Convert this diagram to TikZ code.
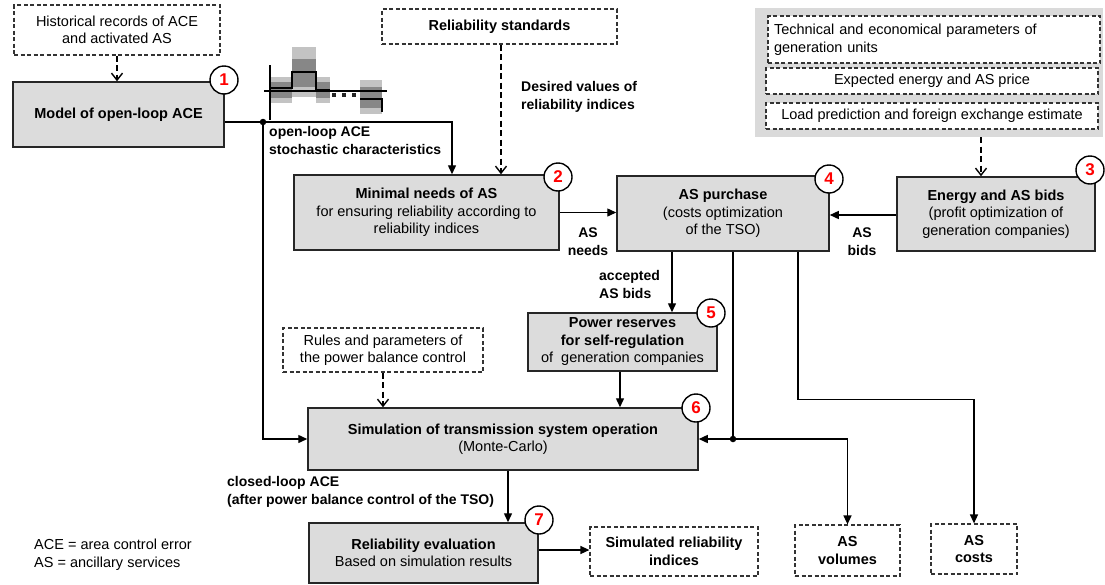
\documentclass[tikz,border=0pt]{standalone}
\usepackage{fontspec}
\setmainfont{Liberation Sans}
\usetikzlibrary{arrows.meta}
\definecolor{boxgray}{RGB}{220,220,220}
\definecolor{panelgray}{RGB}{218,218,218}
\definecolor{bandlight}{RGB}{195,195,195}
\definecolor{banddark}{RGB}{135,135,135}
\begin{document}
\begin{tikzpicture}[x=1pt,y=-1pt,
  every node/.style={font=\fontsize{14.5}{17.5}\selectfont, inner sep=0pt, align=center},
  procbox/.style={draw=black!85, line width=1.5pt, fill=boxgray},
  inbox/.style={draw=black!80, line width=1.2pt, dash pattern=on 4pt off 2.5pt, fill=white},
  numcirc/.style={circle, draw=black, line width=1.4pt, fill=white, minimum size=28pt,
    text=red, font=\fontsize{17}{17}\selectfont\bfseries},
  flow/.style={line width=1.4pt, -{Triangle[length=9pt,width=8pt]}},
  dflow/.style={line width=1.4pt, dash pattern=on 6pt off 3.5pt,
    -{Straight Barb[length=7pt,width=11pt,line width=1.4pt]}},
  lbl/.style={font=\fontsize{14}{18}\selectfont\bfseries},
  junction/.style={circle, fill=black, minimum size=6.5pt, inner sep=0pt}
]
\useasboundingbox (0,0) rectangle (1105,584);

% ---------- input data ----------
\node[inbox, minimum width=206pt, minimum height=50pt] (hist) at (117,30)
  {Historical records of ACE\\and activated AS};
\node[inbox, minimum width=235pt, minimum height=35pt] (relstd) at (499.5,26.5)
  {\bfseries Reliability standards};
\node[fill=panelgray, minimum width=348pt, minimum height=129pt] (panel) at (929,72.5) {};
\node[inbox, minimum width=332pt, minimum height=47pt, align=left, text width=320pt] (pA) at (934,39.5)
  {Technical and economical parameters of\\generation units};
\node[inbox, minimum width=332pt, minimum height=26pt] (pB) at (932,81)
  {Expected energy and AS price};
\node[inbox, minimum width=332pt, minimum height=26pt] (pC) at (932,116)
  {Load prediction and foreign exchange estimate};
\node[inbox, minimum width=200pt, minimum height=44pt] (rules) at (383,350)
  {Rules and parameters of\\the power balance control};

% ---------- processing blocks ----------
\node[procbox, minimum width=211pt, minimum height=65pt] (m1) at (118.5,114.5)
  {\bfseries Model of open-loop ACE};
\node[procbox, minimum width=265pt, minimum height=75pt] (m2) at (426.5,212.5)
  {\textbf{Minimal needs of AS}\\for ensuring reliability according to\\reliability indices};
\node[procbox, minimum width=212pt, minimum height=75pt] (m4) at (723,213.5)
  {\textbf{AS purchase}\\(costs optimization\\of the TSO)};
\node[procbox, minimum width=198pt, minimum height=74pt] (m3) at (996,214)
  {\textbf{Energy and AS bids}\\(profit optimization of\\generation companies)};
\node[procbox, minimum width=189pt, minimum height=58pt] (m5) at (622.5,342)
  {\textbf{Power reserves}\\\textbf{for self-regulation}\\of\ \ generation companies};
\node[procbox, minimum width=390pt, minimum height=62pt] (m6) at (503,439)
  {\textbf{Simulation of transmission system operation}\\(Monte-Carlo)};
\node[procbox, minimum width=229pt, minimum height=60pt] (m7) at (423.5,553)
  {\textbf{Reliability evaluation}\\Based on simulation results};

% ---------- outputs ----------
\node[inbox, minimum width=168pt, minimum height=49pt] (sim) at (674,551.5)
  {\bfseries Simulated reliability\\\bfseries indices};
\node[inbox, minimum width=105pt, minimum height=51pt] (vol) at (847.5,550.5)
  {\bfseries AS\\\bfseries volumes};
\node[inbox, minimum width=86pt, minimum height=50pt] (cost) at (974,549)
  {\bfseries AS\\\bfseries costs};

% ---------- block numbers ----------
\node[numcirc] (n1) at (224,80) {1};
\node[numcirc] (n2) at (558,177) {2};
\node[numcirc] (n3) at (1090,170) {3};
\node[numcirc] (n4) at (829,179) {4};
\node[numcirc] (n5) at (711,313) {5};
\node[numcirc] (n6) at (696,408) {6};
\node[numcirc] (n7) at (539,520) {7};

% ---------- open-loop ACE sketch ----------
\fill[bandlight] (270,77) rectangle (292,103);
\fill[banddark]  (270,82) rectangle (292,98);
\fill[bandlight] (292,47) rectangle (316,97);
\fill[banddark]  (292,59) rectangle (316,87);
\fill[bandlight] (316,77) rectangle (330,103);
\fill[banddark]  (316,82) rectangle (330,98);
\fill[bandlight] (360,80) rectangle (382,114);
\fill[banddark]  (360,87) rectangle (382,108);
\draw[line width=1.2pt] (270,65) -- (270,120);
\draw[line width=1.2pt] (264,91) -- (387,91);
\draw[line width=1.2pt] (270,88) -- (292,88) -- (292,72) -- (316,72) -- (316,90) -- (330,90);
\draw[line width=1.2pt] (360,99) -- (382,99) -- (382,112);
\foreach \px in {334,344,354} \fill[black!85] (\px-1.6,93.4) rectangle (\px+1.6,96.6);

% ---------- connectors ----------
\coordinate (split) at (263,122);
\draw[dflow] (hist.south) -- (hist.south |- m1.north);
\draw[flow] (m1.east |- split) -| ([xshift=25.5pt]m2.north);
\draw[flow] (split) |- (m6.west);
\node[junction] (d1) at (split) {};
\draw[dflow] ([xshift=1.5pt]relstd.south) -- ([xshift=1.5pt]relstd.south |- m2.north);
\coordinate (pout) at ([xshift=52pt]panel.south);
\draw[dflow] (pout) -- (pout |- m3.north);
\draw[flow] (m2.east) -- (m2.east -| m4.west);
\coordinate (bidin) at ([yshift=-1pt]m3.west);
\draw[flow] (bidin) -- (bidin -| m4.east);

\coordinate (a1) at ([xshift=-51pt]m4.south);
\draw[flow] (a1) -- (a1 |- m5.north);
\coordinate (a2) at ([xshift=10pt]m4.south);
\coordinate (j6) at (a2 |- m6.east);
\draw[flow] (a2) -- (j6) -- (m6.east);
\draw[flow] (j6) -| (vol.north);
\node[junction] (d2) at (j6) {};
\coordinate (a3) at ([xshift=75pt]m4.south);
\draw[flow] (a3) -- ++(0,148) -| (cost.north);

\coordinate (a5) at ([xshift=-2.5pt]m5.south);
\draw[flow] (a5) -- (a5 |- m6.north);
\draw[dflow] (rules.south) -- (rules.south |- m6.north);
\coordinate (a6) at ([xshift=5pt]m6.south);
\draw[flow] (a6) -- (a6 |- m7.north);
\coordinate (a7) at ([yshift=3pt]m7.east);
\draw[flow] (a7) -- (a7 -| sim.west);

% ---------- connector labels ----------
\node[lbl, anchor=north west, align=left] (l1) at (269,126)
  {open-loop ACE\\stochastic characteristics};
\node[lbl, anchor=north west, align=left] (l2) at (521,81)
  {Desired values of\\reliability indices};
\node[lbl] (l3) at (588,242) {AS\\needs};
\node[lbl] (l4) at (862,242) {AS\\bids};
\node[lbl, anchor=west, align=left] (l5) at (599,284) {accepted\\AS bids};
\node[lbl, anchor=north west, align=left] (l6) at (227,476)
  {closed-loop ACE\\(after power balance control of the TSO)};

% ---------- abbreviations ----------
\node[anchor=north west, align=left] (legend) at (34,539)
  {ACE = area control error\\AS = ancillary services};
\end{tikzpicture}
\end{document}
